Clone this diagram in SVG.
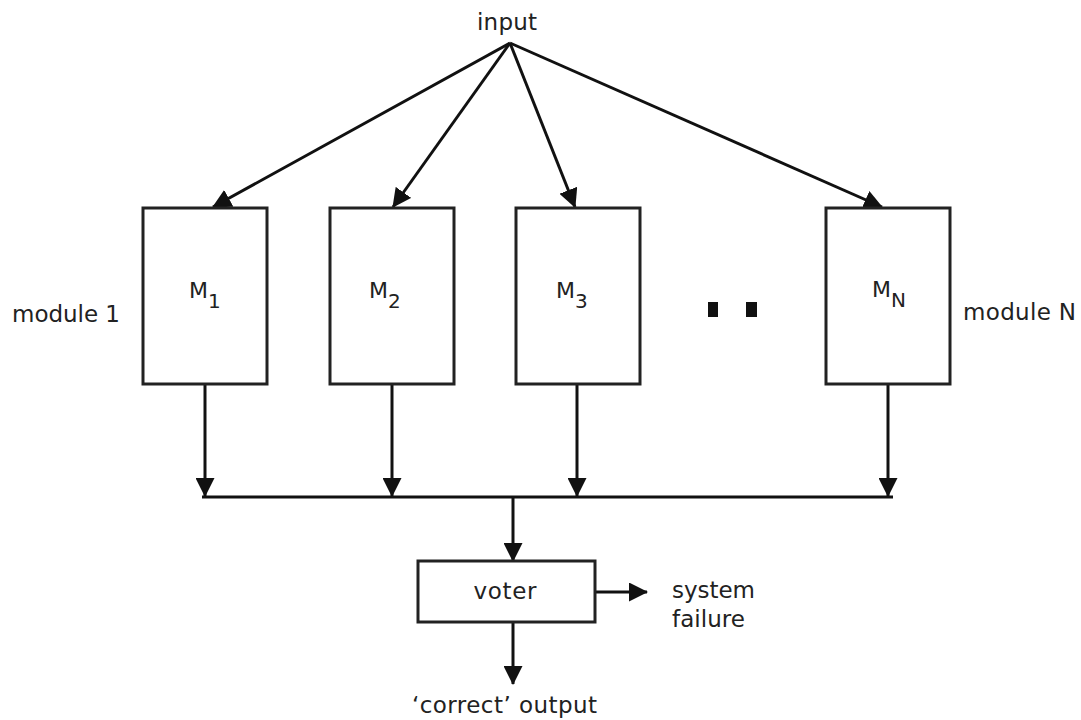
<svg xmlns="http://www.w3.org/2000/svg" width="1081" height="720" viewBox="0 0 1081 720">
<style>
text{font-family:"DejaVu Sans",Verdana,sans-serif;font-size:23px;fill:#222}
.m{font-size:22px}
.box{fill:#fff;stroke:#222;stroke-width:3}
.ln{stroke:#111;stroke-width:3;fill:none}
</style>
<defs>
<marker id="ah" markerUnits="userSpaceOnUse" markerWidth="19" markerHeight="19" viewBox="0 0 19 19" refX="18" refY="9.5" orient="auto">
<path d="M0,0 L19,9.5 L0,19 Z" fill="#111"/>
</marker>
</defs>
<rect width="1081" height="720" fill="#fff"/>
<g id="connectors">
<line class="ln" x1="510" y1="43" x2="213" y2="207" marker-end="url(#ah)"/>
<line class="ln" x1="510" y1="43" x2="393" y2="207" marker-end="url(#ah)"/>
<line class="ln" x1="510" y1="43" x2="575" y2="207" marker-end="url(#ah)"/>
<line class="ln" x1="510" y1="43" x2="882" y2="207" marker-end="url(#ah)"/>
<line class="ln" x1="205" y1="384" x2="205" y2="496" marker-end="url(#ah)"/>
<line class="ln" x1="392" y1="384" x2="392" y2="496" marker-end="url(#ah)"/>
<line class="ln" x1="577" y1="384" x2="577" y2="496" marker-end="url(#ah)"/>
<line class="ln" x1="888" y1="384" x2="888" y2="496" marker-end="url(#ah)"/>
<line class="ln" x1="202" y1="497" x2="893" y2="497"/>
<line class="ln" x1="513" y1="497" x2="513" y2="561" marker-end="url(#ah)"/>
<line class="ln" x1="595" y1="592" x2="647" y2="592" marker-end="url(#ah)"/>
<line class="ln" x1="513" y1="622" x2="513" y2="684" marker-end="url(#ah)"/>
</g>
<g id="input"><text x="507" y="30" text-anchor="middle" textLength="60">input</text></g>
<g id="m1">
<rect class="box" x="143" y="208" width="124" height="176"/>
<text class="m" x="189" y="298">M<tspan font-size="20" dy="10">1</tspan></text>
</g>
<g id="m2">
<rect class="box" x="330" y="208" width="124" height="176"/>
<text class="m" x="369" y="298">M<tspan font-size="20" dy="10">2</tspan></text>
</g>
<g id="m3">
<rect class="box" x="516" y="208" width="124" height="176"/>
<text class="m" x="556" y="298">M<tspan font-size="20" dy="10">3</tspan></text>
</g>
<g id="dots">
<rect x="708" y="302" width="10" height="15" fill="#111"/>
<rect x="746" y="302" width="11" height="15" fill="#111"/>
</g>
<g id="mN">
<rect class="box" x="826" y="208" width="124" height="176"/>
<text class="m" x="872" y="297">M<tspan font-size="20" dy="10">N</tspan></text>
</g>
<g id="label1"><text x="12" y="322" textLength="108">module 1</text></g>
<g id="labelN"><text x="963" y="320" textLength="113">module N</text></g>
<g id="voter">
<rect class="box" x="418" y="561" width="177" height="61"/>
<text x="505" y="599" text-anchor="middle" textLength="63">voter</text>
</g>
<g id="failure">
<text x="672" y="598" textLength="83">system</text>
<text x="672" y="627" textLength="73">failure</text>
</g>
<g id="output"><text x="412" y="713" textLength="185">‘correct’ output</text></g>
</svg>
